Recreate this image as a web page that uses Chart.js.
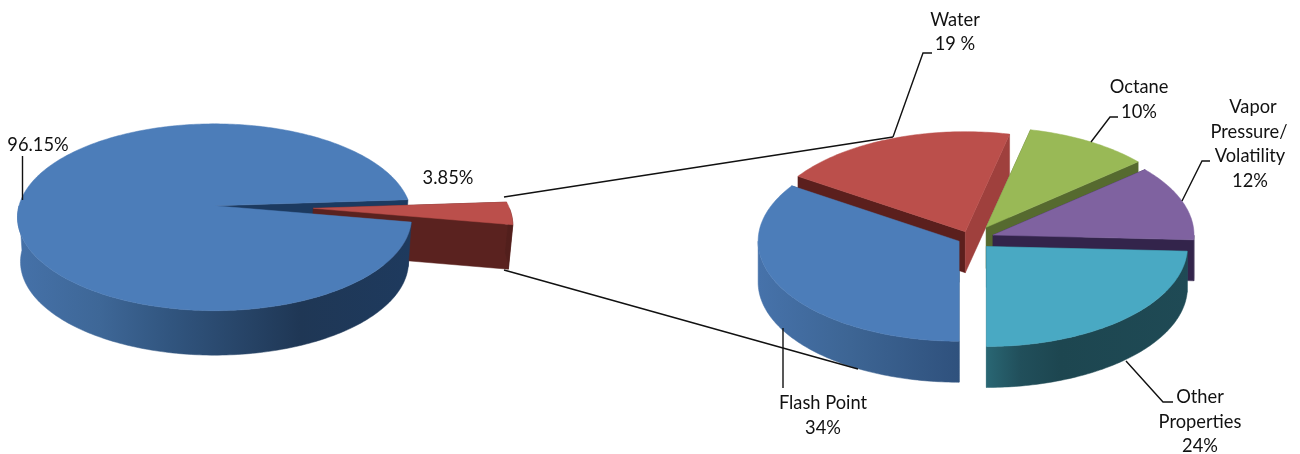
<!DOCTYPE html>
<html>
<head>
<meta charset="utf-8">
<style>
  html, body { margin: 0; padding: 0; background: #fff; overflow: hidden; }
  canvas { position: absolute; left: 0; top: 0; }
</style>
<script src="https://cdn.jsdelivr.net/npm/chart.js@4"></script>
</head>
<body>
<canvas id="mainPie" width="1300" height="454"></canvas>
<canvas id="detailPie" width="1300" height="454"></canvas>
<script>
const mainValues = [96.15, 3.85];
const mainLabels = ['96.15%', '3.85%'];
const detailCategories = ['Flash Point', 'Water', 'Octane', 'Vapor Pressure/Volatility', 'Other Properties'];
const detailValues = [34, 19, 10, 12, 24];

const mainColors = ['#4c7db9', '#bb4f4b'];
const detailColors = ['#4c7db9', '#bb4f4b', '#99b956', '#7f62a0', '#49a9c3'];

// text as it sits on the page: [text, x, y]
const mainText = [
  ['96.15%', 38, 145],
  ['3.85%', 448, 178]
];
const detailText = [
  ['Water', 955, 20], ['19 %', 955, 44],
  ['Octane', 1139, 87], ['10%', 1139, 112],
  ['Vapor', 1253, 107], ['Pressure/', 1249, 132], ['Volatility', 1250, 156], ['12%', 1250, 181],
  ['Flash Point', 823, 403], ['34%', 823, 428],
  ['Other', 1200, 397], ['Properties', 1200, 422], ['24%', 1200, 446]
];
const mainLeaders = [
  [[22.5, 156], [22.5, 200]]
];
const detailLeaders = [
  [[932, 53], [923, 53], [893, 137]],
  [[1118, 117], [1110, 117], [1091, 142]],
  [[1210, 161], [1202, 161], [1182, 201]],
  [[783, 328], [783, 388]],
  [[1126, 361], [1163, 402], [1173, 402]],
  [[504, 197], [893, 137]],
  [[504, 270], [858, 369]]
];

function project(view, u, v) {
  const w = 1 - view.k * v;
  return [view.x0 + view.rx * u / w, view.y0 + view.ry * v / w];
}

function polygon(ctx, pts, fill) {
  ctx.beginPath();
  pts.forEach((p, i) => i ? ctx.lineTo(p[0], p[1]) : ctx.moveTo(p[0], p[1]));
  ctx.closePath();
  ctx.fillStyle = fill;
  ctx.strokeStyle = fill;
  ctx.lineWidth = 0.5;
  ctx.fill();
  ctx.stroke();
}

function drawPie3d(chart, view) {
  const ctx = chart.ctx;
  const arcs = chart.getDatasetMeta(0).data;

  const helpers = arcs.map((arc, i) => {
    const mid = (arc.startAngle + arc.endAngle) / 2;
    const e = (arc.options.offset / 4) / arc.outerRadius;
    const shiftU = Math.cos(mid) * e;
    const shiftV = Math.sin(mid) * e;
    const nudge = view.nudges[i];
    const place = (u, v) => {
      const p = project(view, u, v);
      return [p[0] + nudge[0], p[1] + nudge[1]];
    };
    const top = (t) => place(Math.cos(t) + shiftU, Math.sin(t) + shiftV);
    const apex = place(shiftU, shiftV);
    const drop = (p) => [view.x0 + (p[0] - view.x0) * view.taper, p[1] + view.depth];
    return { arc, top, apex, drop };
  });

  // radial walls go first, everything else is painted over them
  helpers.forEach((h, i) => {
    const a = h.top(h.arc.startAngle);
    const b = h.top(h.arc.endAngle);
    polygon(ctx, [h.apex, a, h.drop(a), h.drop(h.apex)], view.startWalls[i]);
    polygon(ctx, [h.apex, b, h.drop(b), h.drop(h.apex)], view.endWalls[i]);
  });

  view.order.forEach((i) => {
    const h = helpers[i];
    const rim = [];
    const step = Math.PI / 180;
    for (let t = h.arc.startAngle; t < h.arc.endAngle + step; t += step) {
      rim.push(Math.min(t, h.arc.endAngle));
    }

    const front = rim.filter((t) => Math.sin(t) > -0.001).map(h.top);
    if (front.length > 1) {
      const stops = view.sides[i];
      const grad = ctx.createLinearGradient(stops[0][0], 0, stops[stops.length - 1][0], 0);
      const span = stops[stops.length - 1][0] - stops[0][0];
      stops.forEach((s) => grad.addColorStop((s[0] - stops[0][0]) / span, s[1]));
      polygon(ctx, front.concat(front.map(h.drop).reverse()), grad);
    }

    polygon(ctx, [h.apex].concat(rim.map(h.top)), chart.data.datasets[0].backgroundColor[i]);
  });
}

function drawNotes(chart, view) {
  const ctx = chart.ctx;
  ctx.save();
  ctx.strokeStyle = '#111';
  ctx.lineWidth = 1.4;
  view.leaders.forEach((line) => {
    ctx.beginPath();
    line.forEach((p, i) => i ? ctx.lineTo(p[0], p[1]) : ctx.moveTo(p[0], p[1]));
    ctx.stroke();
  });
  ctx.fillStyle = '#111';
  ctx.font = '18.3px Lato';
  ctx.textAlign = 'center';
  ctx.textBaseline = 'middle';
  view.text.forEach((t) => ctx.fillText(t[0], t[1], t[2]));
  ctx.restore();
}

function makePie(id, labels, values, colors, offset, rotation, view) {
  return new Chart(document.getElementById(id).getContext('2d'), {
    type: 'pie',
    data: {
      labels: labels,
      datasets: [{ data: values, backgroundColor: colors, borderWidth: 0, offset: offset }]
    },
    options: {
      responsive: false,
      animation: false,
      rotation: rotation,
      plugins: { legend: { display: false }, tooltip: { enabled: false } }
    },
    plugins: [{
      id: 'pie3d',
      beforeDatasetsDraw(chart) {
        drawPie3d(chart, view);
        return false;
      },
      afterDraw(chart) {
        drawNotes(chart, view);
      }
    }]
  });
}

makePie('mainPie', mainLabels, mainValues, mainColors, [0, 228], 100, {
  x0: 214.5, y0: 205.8, rx: 195.5, ry: 92, k: 0.1226, depth: 44.5, taper: 0.985,
  nudges: [[0, 0], [0, 0]],
  order: [1, 0],
  startWalls: ['#1d3a60', '#5a221f'],
  endWalls: ['#1c3a60', '#5a221f'],
  sides: [
    [[20, '#4571a8'], [100, '#3e6797'], [170, '#31557f'], [300, '#1f3755'], [411, '#1e3a5e']],
    [[400, '#521f1c'], [515, '#521f1c']]
  ],
  text: mainText,
  leaders: mainLeaders
});

makePie('detailPie', detailCategories, detailValues, detailColors, 69, 180, {
  x0: 976, y0: 237, rx: 201, ry: 100, k: 0, depth: 41, taper: 1,
  nudges: [[-1, 0], [-4, 3], [1, -2], [0, 1], [-2, 3]],
  order: [1, 2, 3, 0, 4],
  startWalls: ['#2f527f', '#5b1f1d', '#566a2f', '#33244b', '#296673'],
  endWalls: ['#2f527f', '#9f403d', '#566a2f', '#33244b', '#296673'],
  sides: [
    [[759, '#4672aa'], [850, '#3d6594'], [960, '#2f517d']],
    [[780, '#5b1f1d'], [1020, '#5b1f1d']],
    [[980, '#566a2f'], [1140, '#566a2f']],
    [[990, '#33244b'], [1200, '#33244b']],
    [[987, '#296673'], [1020, '#214f5b'], [1060, '#1d4650'], [1190, '#1f4a55']]
  ],
  text: detailText,
  leaders: detailLeaders
});
</script>
</body>
</html>
